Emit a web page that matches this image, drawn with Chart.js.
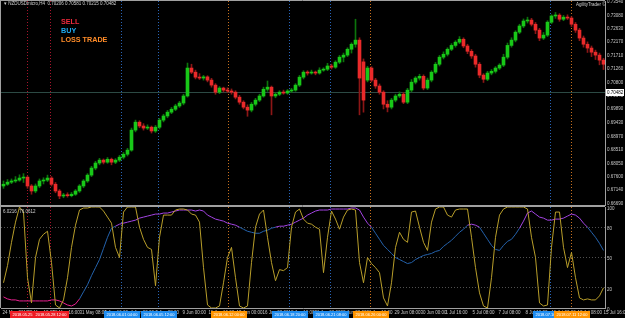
<!DOCTYPE html>
<html>
<head>
<meta charset="utf-8">
<script src="https://cdn.jsdelivr.net/npm/chart.js@4.4.1/dist/chart.umd.min.js"></script>
<style>
  html, body { margin: 0; padding: 0; background: #000; }
  #wrap { position: relative; width: 625px; height: 318px; overflow: hidden; background: #000; font-family: "Liberation Sans", Arial, sans-serif; }
  canvas { position: absolute; left: 0; }
  #top { top: 0; }
  #bottom { top: 206px; }
  .tiny { position: absolute; white-space: nowrap; color: #d0d0d0; font-size: 4.5px; line-height: 5px; }
  #legend { position: absolute; left: 61px; top: 17px; font-weight: bold; font-size: 8px; line-height: 9px; white-space: nowrap; transform-origin: 0 0; transform: scaleX(0.9); }
</style>
</head>
<body>
<div id="wrap">
  <canvas id="top" width="625" height="206"></canvas>
  <canvas id="bottom" width="625" height="112"></canvas>
  <div class="tiny" style="left:4px; top:1px;">&#9662; NZDUSDmicro,H4&nbsp; 0.70206 0.70581 0.70215 0.70482</div>
  <div class="tiny" style="left:576px; top:2px;">AgilityTrader &#169;</div>
  <div class="tiny" style="left:3px; top:209px;">6.0216&nbsp; 76.0612</div>
  <div id="legend">
    <div style="color:#f02a3c">SELL</div>
    <div style="color:#1eaaf0">BUY</div>
    <div style="color:#ff8c28">LOSS TRADE</div>
  </div>
</div>
<script>
// H4 candles, one per bar
const opens = [
  0.6728, 0.6734, 0.6741, 0.6745, 0.6748, 0.6755, 0.6758, 0.6728, 0.6711, 0.6728,
  0.6745, 0.6748, 0.6755, 0.6734, 0.6711, 0.6694, 0.6697, 0.6695, 0.6700, 0.6711,
  0.6728, 0.6745, 0.6765, 0.6789, 0.6806, 0.6816, 0.6809, 0.6819, 0.6809, 0.6816,
  0.6826, 0.6836, 0.6850, 0.6918, 0.6945, 0.6932, 0.6925, 0.6928, 0.6915, 0.6928,
  0.6952, 0.6966, 0.6979, 0.6989, 0.7000, 0.7010, 0.7034, 0.7129, 0.7115, 0.7098,
  0.7095, 0.7099, 0.7088, 0.7071, 0.7047, 0.7061, 0.7054, 0.7051, 0.7047, 0.7030,
  0.7013, 0.6996, 0.6986, 0.7006, 0.7020, 0.7034, 0.7057, 0.7064, 0.7034, 0.7040,
  0.7047, 0.7044, 0.7051, 0.7054, 0.7071, 0.7098, 0.7115, 0.7112, 0.7115, 0.7112,
  0.7122, 0.7125, 0.7136, 0.7132, 0.7149, 0.7166, 0.7173, 0.7193, 0.7210, 0.7224,
  0.7150, 0.7088, 0.7129, 0.7088, 0.7068, 0.7047, 0.7006, 0.6996, 0.7020, 0.7034,
  0.7040, 0.7013, 0.7054, 0.7081, 0.7095, 0.7101, 0.7061, 0.7088, 0.7115, 0.7142,
  0.7166, 0.7176, 0.7193, 0.7206, 0.7217, 0.7227, 0.7204, 0.7186, 0.7170, 0.7142,
  0.7105, 0.7091, 0.7112, 0.7118, 0.7129, 0.7139, 0.7166, 0.7206, 0.7224, 0.7251,
  0.7272, 0.7289, 0.7292, 0.7278, 0.7258, 0.7231, 0.7241, 0.7285, 0.7306, 0.7309,
  0.7295, 0.7302, 0.7299, 0.7278, 0.7258, 0.7231, 0.7210, 0.7197, 0.7183, 0.7173,
  0.7156
];
const highs = [
  0.6745, 0.6750, 0.6752, 0.6760, 0.6766, 0.6770, 0.6762, 0.6733, 0.6735, 0.6752,
  0.6756, 0.6765, 0.6760, 0.6740, 0.6716, 0.6703, 0.6705, 0.6706, 0.6716, 0.6733,
  0.6750, 0.6770, 0.6795, 0.6812, 0.6822, 0.6820, 0.6825, 0.6823, 0.6821, 0.6832,
  0.6842, 0.6856, 0.6925, 0.6952, 0.6950, 0.6940, 0.6936, 0.6932, 0.6934, 0.6958,
  0.6972, 0.6985, 0.6995, 0.7006, 0.7016, 0.7040, 0.7146, 0.7142, 0.7122, 0.7110,
  0.7104, 0.7103, 0.7094, 0.7076, 0.7066, 0.7064, 0.7062, 0.7058, 0.7052, 0.7036,
  0.7018, 0.7004, 0.7012, 0.7026, 0.7040, 0.7064, 0.7085, 0.7068, 0.7045, 0.7052,
  0.7054, 0.7056, 0.7060, 0.7076, 0.7104, 0.7120, 0.7120, 0.7122, 0.7119, 0.7130,
  0.7130, 0.7145, 0.7142, 0.7154, 0.7172, 0.7180, 0.7198, 0.7215, 0.7295, 0.7232,
  0.7160, 0.7135, 0.7134, 0.7094, 0.7075, 0.7052, 0.7018, 0.7026, 0.7040, 0.7048,
  0.7046, 0.7060, 0.7090, 0.7100, 0.7108, 0.7106, 0.7095, 0.7120, 0.7148, 0.7172,
  0.7184, 0.7198, 0.7212, 0.7222, 0.7236, 0.7232, 0.7210, 0.7192, 0.7176, 0.7148,
  0.7110, 0.7118, 0.7124, 0.7134, 0.7144, 0.7176, 0.7214, 0.7232, 0.7256, 0.7278,
  0.7296, 0.7302, 0.7298, 0.7284, 0.7264, 0.7250, 0.7290, 0.7310, 0.7318, 0.7314,
  0.7308, 0.7310, 0.7304, 0.7284, 0.7264, 0.7238, 0.7218, 0.7204, 0.7190, 0.7180,
  0.7162
];
const lows = [
  0.6720, 0.6730, 0.6736, 0.6740, 0.6744, 0.6740, 0.6720, 0.6700, 0.6705, 0.6722,
  0.6735, 0.6743, 0.6728, 0.6705, 0.6685, 0.6688, 0.6690, 0.6691, 0.6696, 0.6706,
  0.6722, 0.6740, 0.6760, 0.6783, 0.6800, 0.6803, 0.6805, 0.6800, 0.6804, 0.6811,
  0.6820, 0.6830, 0.6846, 0.6912, 0.6926, 0.6918, 0.6920, 0.6908, 0.6910, 0.6922,
  0.6946, 0.6960, 0.6974, 0.6984, 0.6995, 0.7004, 0.7030, 0.7110, 0.7092, 0.7090,
  0.7088, 0.7082, 0.7064, 0.7040, 0.7042, 0.7048, 0.7046, 0.7040, 0.7024, 0.7006,
  0.6990, 0.6965, 0.6980, 0.7000, 0.7015, 0.7030, 0.7050, 0.6970, 0.7028, 0.7035,
  0.7040, 0.7040, 0.7046, 0.7050, 0.7066, 0.7092, 0.7105, 0.7108, 0.7106, 0.7108,
  0.7118, 0.7120, 0.7126, 0.7128, 0.7144, 0.7150, 0.7168, 0.7180, 0.7200, 0.6970,
  0.6979, 0.7082, 0.7082, 0.7060, 0.7040, 0.6990, 0.6980, 0.6990, 0.7014, 0.7028,
  0.7008, 0.7008, 0.7048, 0.7075, 0.7088, 0.7055, 0.7056, 0.7082, 0.7110, 0.7136,
  0.7160, 0.7170, 0.7188, 0.7200, 0.7212, 0.7198, 0.7178, 0.7162, 0.7132, 0.7096,
  0.7080, 0.7086, 0.7106, 0.7112, 0.7124, 0.7134, 0.7160, 0.7200, 0.7218, 0.7246,
  0.7266, 0.7282, 0.7272, 0.7246, 0.7222, 0.7226, 0.7236, 0.7280, 0.7298, 0.7288,
  0.7290, 0.7294, 0.7270, 0.7250, 0.7222, 0.7200, 0.7182, 0.7168, 0.7158, 0.7140,
  0.7124
];
const closes = [
  0.6734, 0.6741, 0.6745, 0.6748, 0.6755, 0.6758, 0.6728, 0.6711, 0.6728, 0.6745,
  0.6748, 0.6755, 0.6734, 0.6711, 0.6694, 0.6697, 0.6695, 0.6700, 0.6711, 0.6728,
  0.6745, 0.6765, 0.6789, 0.6806, 0.6816, 0.6809, 0.6819, 0.6809, 0.6816, 0.6826,
  0.6836, 0.6850, 0.6918, 0.6945, 0.6932, 0.6925, 0.6928, 0.6915, 0.6928, 0.6952,
  0.6966, 0.6979, 0.6989, 0.7000, 0.7010, 0.7034, 0.7129, 0.7115, 0.7098, 0.7095,
  0.7099, 0.7088, 0.7071, 0.7047, 0.7061, 0.7054, 0.7051, 0.7047, 0.7030, 0.7013,
  0.6996, 0.6986, 0.7006, 0.7020, 0.7034, 0.7057, 0.7064, 0.7034, 0.7040, 0.7047,
  0.7044, 0.7051, 0.7054, 0.7071, 0.7098, 0.7115, 0.7112, 0.7115, 0.7112, 0.7122,
  0.7125, 0.7136, 0.7132, 0.7149, 0.7166, 0.7173, 0.7193, 0.7210, 0.7224, 0.7095,
  0.7020, 0.7129, 0.7088, 0.7068, 0.7047, 0.7006, 0.6996, 0.7020, 0.7034, 0.7040,
  0.7013, 0.7054, 0.7081, 0.7095, 0.7101, 0.7061, 0.7088, 0.7115, 0.7142, 0.7166,
  0.7176, 0.7193, 0.7206, 0.7217, 0.7227, 0.7204, 0.7186, 0.7170, 0.7142, 0.7105,
  0.7091, 0.7112, 0.7118, 0.7129, 0.7139, 0.7166, 0.7206, 0.7224, 0.7251, 0.7272,
  0.7289, 0.7292, 0.7278, 0.7258, 0.7231, 0.7241, 0.7285, 0.7306, 0.7309, 0.7295,
  0.7302, 0.7299, 0.7278, 0.7258, 0.7231, 0.7210, 0.7197, 0.7183, 0.7173, 0.7156,
  0.7142
];

// stochastic oscillator
const stochMain = [
  25, 42, 65, 85, 100, 95, 30, 5, 50, 68,
  73, 76, 45, 3, 0, 8, 30, 60, 82, 97,
  99, 99, 100, 100, 100, 96, 90, 84, 60, 50,
  95, 100, 100, 100, 80, 68, 60, 58, 22, 70,
  92, 92, 92, 97, 98, 98, 97, 93, 92, 85,
  40, 3, 0, 0, 2, 25, 50, 60, 30, 2,
  0, 2, 45, 80, 93, 97, 70, 45, 27, 38,
  37, 40, 80, 95, 98, 88, 84, 83, 80, 78,
  35, 70, 96, 88, 78, 90, 97, 98, 97, 45,
  25, 50, 44, 40, 35, 10, 2, 25, 60, 75,
  68, 65, 95, 96, 80, 65, 57, 85, 98, 100,
  100, 92, 90, 97, 98, 98, 98, 70, 40, 15,
  2, 0, 30, 70, 92, 98, 100, 100, 100, 100,
  100, 98, 70, 50, 5, 2, 3, 60, 95, 95,
  60, 40, 55, 30, 10, 8, 9, 8, 8, 12,
  20
];
const stochSignal = [
  11, 9, 8, 8, 7, 7, 7, 7, 7, 7,
  7, 7, 8, 8, 7, 5, 3, 2, 4, 9,
  16, 23, 32, 40, 48, 59, 70, 79, 81, 83,
  84, 85, 86, 87, 89, 90, 91, 92, 93, 93,
  94, 94, 95, 96, 97, 97, 97, 97, 96, 97,
  96, 92, 90, 88, 87, 86, 84, 83, 82, 80,
  78, 76, 75, 74, 74, 76, 77, 79, 80, 81,
  81, 82, 83, 85, 87, 89, 92, 94, 96, 97,
  97, 97, 98, 98, 98, 98, 98, 99, 99, 97,
  90, 84, 80, 74, 68, 62, 58, 54, 50, 48,
  46, 44, 45, 48, 50, 52, 53, 54, 56, 57,
  61, 64, 67, 71, 75, 78, 82, 83, 82, 80,
  74, 68, 62, 58, 57, 62, 66, 68, 73, 79,
  86, 94, 96, 93, 90, 89, 87, 87, 88, 88,
  89, 91, 93, 92, 89, 84, 80, 75, 70, 64,
  57
];

const priceTicks = [0.7354, 0.7308, 0.7263, 0.7217, 0.7171, 0.7126, 0.7080, 0.7034,
  0.6989, 0.6943, 0.6897, 0.6851, 0.6805, 0.6760, 0.6714, 0.6669];
const stochTicks = [100, 80, 50, 20, 0];
const lastPrice = 0.70482;

const timeTickBars = [-0.25, 6, 12.25, 19, 25.25, 31.75, 38, 44.75, 51.25, 58.25, 64.75, 71.25,
  77.75, 84.25, 90.75, 97.75, 104.25, 110.5, 117.25, 123.75, 130.5, 137, 143.5, 150];
const timeTickLabels = ['24 May 2018', '25 May 12:00', '28 May 16:00', '31 May 08:00', '1 Jun 16:00',
  '4 Jun 00:00', '5 Jun 08:00', '9 Jun 00:00', '11 Jun 16:00', '13 Jun 00:00', '16 Jun 08:00',
  '18 Jun 16:00', '21 Jun 00:00', '22 Jun 08:00', '26 Jun 16:00', '29 Jun 08:00', '30 Jun 00:00',
  '1 Jul 16:00', '5 Jul 08:00', '7 Jul 08:00', '8 Jul 16:00', '11 Jul 00:00', '12 Jul 08:00',
  '15 Jul 16:00'];

// vertical trade markers
const markerBars = [6, 11.75, 29.5, 38.75, 56.25, 71.5, 81.75, 91.75, 136.75, 142];
const markerKinds = ['sell', 'sell', 'buy', 'buy', 'loss', 'buy', 'buy', 'loss', 'buy', 'loss'];
const markerTimes = ['2018.05.25 16:00', '2018.05.28 12:00', '2018.06.01 04:00', '2018.06.05 12:00',
  '2018.06.12 00:00', '2018.06.18 20:00', '2018.06.21 08:00', '2018.06.26 00:00',
  '2018.07.10 08:00', '2018.07.11 12:00'];

const kindLine = { sell: '#a8142c', buy: '#2864b8', loss: '#c8701e' };
const kindBox = { sell: '#ee1c24', buy: '#1e8cf0', loss: '#ff9400' };
const xMin = -0.625, xMax = 150.375;
const tickFont = { family: 'Liberation Sans', size: 4.5 };
const axisColor = '#c8c8c8';

function drawMarkers(chart) {
  const { ctx, chartArea, scales } = chart;
  ctx.save();
  ctx.lineWidth = 1;
  ctx.setLineDash([1, 2]);
  markerBars.forEach((b, i) => {
    const x = Math.round(scales.x.getPixelForValue(b) - 0.5) + 0.5;
    ctx.strokeStyle = kindLine[markerKinds[i]];
    ctx.beginPath();
    ctx.moveTo(x, chartArea.top);
    ctx.lineTo(x, chartArea.bottom);
    ctx.stroke();
  });
  ctx.restore();
}

const topDecor = {
  id: 'topDecor',
  beforeDatasetsDraw(chart) {
    const { ctx, chartArea, scales } = chart;
    drawMarkers(chart);
    const y = Math.round(scales.y.getPixelForValue(lastPrice)) + 0.5;
    ctx.save();
    ctx.strokeStyle = '#2c4a44';
    ctx.lineWidth = 1;
    ctx.beginPath();
    ctx.moveTo(chartArea.left, y);
    ctx.lineTo(chartArea.right, y);
    ctx.stroke();
    ctx.restore();
  },
  afterDraw(chart) {
    const { ctx, chartArea, scales } = chart;
    ctx.save();
    ctx.strokeStyle = '#a0a0a0';
    ctx.lineWidth = 1;
    ctx.beginPath();
    ctx.moveTo(0, 0.5); ctx.lineTo(chartArea.right, 0.5);
    ctx.moveTo(0.5, 0); ctx.lineTo(0.5, chartArea.bottom);
    ctx.moveTo(0, chartArea.bottom - 0.5); ctx.lineTo(chartArea.right, chartArea.bottom - 0.5);
    ctx.stroke();
    const y = scales.y.getPixelForValue(lastPrice);
    ctx.fillStyle = '#ffffff';
    ctx.fillRect(chartArea.right + 1, Math.round(y) - 3, 18, 7);
    ctx.fillStyle = '#000000';
    ctx.font = '4.5px "Liberation Sans"';
    ctx.textBaseline = 'middle';
    ctx.fillText(lastPrice.toFixed(5), chartArea.right + 2, Math.round(y) + 0.5);
    ctx.restore();
  }
};

const bottomDecor = {
  id: 'bottomDecor',
  beforeDatasetsDraw(chart) {
    drawMarkers(chart);
  },
  afterDraw(chart) {
    const { ctx, chartArea, scales } = chart;
    ctx.save();
    ctx.strokeStyle = '#a0a0a0';
    ctx.lineWidth = 1;
    ctx.beginPath();
    ctx.moveTo(0, 0.5); ctx.lineTo(chartArea.right, 0.5);
    ctx.moveTo(0.5, 0); ctx.lineTo(0.5, chartArea.bottom);
    ctx.stroke();
    ctx.font = '4px "Liberation Sans"';
    ctx.textAlign = 'center';
    ctx.textBaseline = 'middle';
    markerBars.forEach((b, i) => {
      const x = Math.round(scales.x.getPixelForValue(b));
      ctx.fillStyle = kindBox[markerKinds[i]];
      ctx.fillRect(x - 18, chartArea.bottom + 3, 36, 7);
      ctx.fillStyle = '#ffffff';
      ctx.fillText(markerTimes[i], x, chartArea.bottom + 6.5);
    });
    ctx.restore();
  }
};

const bull = closes.map((c, i) => c >= opens[i]);

new Chart(document.getElementById('top'), {
  type: 'bar',
  data: {
    datasets: [
      {
        label: 'wick',
        data: closes.map((c, i) => ({ x: i, y: [lows[i], highs[i]] })),
        backgroundColor: bull.map(b => b ? '#0c740c' : '#8c1616'),
        barThickness: 1,
        grouped: false,
        order: 2
      },
      {
        label: 'body',
        data: closes.map((c, i) => ({ x: i, y: [opens[i], c] })),
        backgroundColor: bull.map(b => b ? '#18c818' : '#ea2a2a'),
        barThickness: 3,
        minBarLength: 1,
        grouped: false,
        order: 1
      }
    ]
  },
  options: {
    responsive: false,
    animation: false,
    devicePixelRatio: 1,
    layout: { padding: { left: 1, top: 1, right: 0, bottom: 0 } },
    plugins: { legend: { display: false }, tooltip: { enabled: false } },
    scales: {
      x: { type: 'linear', min: xMin, max: xMax, offset: false, display: false },
      y: {
        position: 'right',
        min: 0.6660,
        max: 0.7357,
        afterFit: s => { s.width = 20; s.paddingTop = 0; s.paddingBottom = 0; },
        afterBuildTicks: s => { s.ticks = priceTicks.map(v => ({ value: v })); },
        ticks: { autoSkip: false, color: axisColor, font: tickFont, padding: 2, crossAlign: 'near', callback: v => v.toFixed(5) },
        grid: { display: false, drawTicks: false },
        border: { display: true, color: '#a0a0a0' }
      }
    }
  },
  plugins: [topDecor]
});

function signalColor(v) {
  if (v > 80) return '#a444e4';
  if (v < 12) return '#ea2090';
  return '#2462ac';
}

new Chart(document.getElementById('bottom'), {
  type: 'line',
  data: {
    datasets: [
      {
        label: 'main',
        data: stochMain.map((v, i) => ({ x: i, y: v })),
        borderColor: '#b89e2a',
        borderWidth: 1,
        pointRadius: 0,
        tension: 0,
        order: 1
      },
      {
        label: 'signal',
        data: stochSignal.map((v, i) => ({ x: i, y: v })),
        borderColor: '#2462ac',
        borderWidth: 1,
        pointRadius: 0,
        tension: 0,
        segment: { borderColor: c => signalColor((c.p0.parsed.y + c.p1.parsed.y) / 2) },
        order: 2
      }
    ]
  },
  options: {
    responsive: false,
    animation: false,
    devicePixelRatio: 1,
    layout: { padding: { left: 1, top: 1, right: 0, bottom: 0 } },
    plugins: { legend: { display: false }, tooltip: { enabled: false } },
    scales: {
      x: {
        type: 'linear',
        min: xMin,
        max: xMax,
        offset: false,
        position: 'bottom',
        afterFit: s => { s.height = 10; s.paddingLeft = 0; s.paddingRight = 0; },
        afterBuildTicks: s => { s.ticks = timeTickBars.map(v => ({ value: v })); },
        ticks: { autoSkip: false, maxRotation: 0, align: 'start', padding: 2, color: axisColor, font: tickFont,
          callback: (v, i) => timeTickLabels[i] },
        grid: { display: false, drawTicks: false },
        border: { display: true, color: '#a0a0a0' }
      },
      y: {
        position: 'right',
        min: 0,
        max: 100,
        afterFit: s => { s.width = 20; s.paddingTop = 0; s.paddingBottom = 0; },
        afterBuildTicks: s => { s.ticks = stochTicks.map(v => ({ value: v })); },
        ticks: { autoSkip: false, color: axisColor, font: tickFont, padding: 2, crossAlign: 'near', labelOffset: 1.5 },
        grid: {
          drawTicks: false,
          color: c => (c.tick && c.tick.value > 0 && c.tick.value < 100) ? '#505050' : 'rgba(0,0,0,0)'
        },
        border: { display: true, color: '#a0a0a0', dash: [1, 2] }
      }
    }
  },
  plugins: [bottomDecor]
});
</script>
</body>
</html>
